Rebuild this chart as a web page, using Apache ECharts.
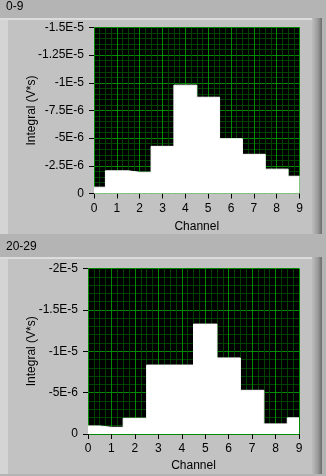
<!DOCTYPE html>
<html>
<head>
<meta charset="utf-8">
<script src="https://cdn.jsdelivr.net/npm/echarts@6/dist/echarts.min.js"></script>
<style>
  html, body { margin: 0; padding: 0; background: #b4b4b4; }
  #chart { width: 326px; height: 476px; }
</style>
</head>
<body>
<div id="chart"></div>
<script>
  // channel numbers and integrated signal (V*s) for the two groups
  const channels = [0, 1, 2, 3, 4, 5, 6, 7, 8, 9];
  const integral0to9 = [-5.7e-7, -2.05e-6, -1.92e-6, -4.26e-6, -9.79e-6, -8.7e-6, -4.95e-6, -3.54e-6, -2.2e-6, -1.56e-6];
  const integral20to29 = [-9.7e-7, -8.1e-7, -1.9e-6, -8.33e-6, -8.33e-6, -1.328e-5, -9.19e-6, -5.28e-6, -1.22e-6, -1.95e-6];
  const groupLabels = ['0-9', '20-29'];
  const yMins = [-1.5e-5, -2e-5];
  const yIntervals = [2.5e-6, 5e-6];
  const yMinorSplits = [5, 5];

  const font = 'Liberation Sans';

  function sciLabel(v) {
    if (Math.abs(v) < 1e-12) return '0';
    let s = Number(v.toPrecision(6)).toExponential();
    return s.replace('e', 'E').replace('+', '');
  }

  function toPoints(vals) {
    return channels.map((c, i) => [c, vals[i]]);
  }

  let myChart = echarts.init(document.getElementById('chart'));

  let grids = [
    { left: 94, top: 27.5, width: 205.5, height: 166 },
    { left: 88, top: 268.5, width: 211, height: 165.5 }
  ].map(g => Object.assign(g, { show: true, backgroundColor: '#000', borderWidth: 0 }));

  let xAxes = [0, 1].map(i => ({
    type: 'value',
    gridIndex: i,
    min: 0,
    max: 9,
    interval: 1,
    name: 'Channel',
    nameLocation: 'middle',
    nameGap: i === 0 ? 27 : 26,
    nameMoveOverlap: false,
    nameTextStyle: { color: '#000', fontFamily: font, fontSize: 12 },
    axisLine: { show: false },
    axisTick: { show: true, length: 5, lineStyle: { color: '#000' } },
    axisLabel: { color: '#000', fontFamily: font, fontSize: 12, margin: 9 },
    splitLine: { show: true, lineStyle: { color: '#008a00', width: 1 } },
    minorTick: { show: false, splitNumber: 4 },
    minorSplitLine: { show: true, lineStyle: { color: '#004200', width: 1 } }
  }));

  let yAxes = [0, 1].map(i => ({
    type: 'value',
    gridIndex: i,
    inverse: true,
    min: yMins[i],
    max: 0,
    interval: yIntervals[i],
    name: 'Integral (V*s)',
    nameLocation: 'middle',
    nameGap: i === 0 ? 56 : 50,
    nameMoveOverlap: false,
    nameTextStyle: { color: '#000', fontFamily: font, fontSize: 12 },
    axisLine: { show: false },
    axisTick: { show: true, length: 5, lineStyle: { color: '#000' } },
    axisLabel: { color: '#000', fontFamily: font, fontSize: 12, margin: 10, formatter: sciLabel },
    splitLine: { show: true, lineStyle: { color: '#008a00', width: 1 } },
    minorTick: { show: false, splitNumber: yMinorSplits[i] },
    minorSplitLine: { show: true, lineStyle: { color: '#004200', width: 1 } }
  }));

  let series = [integral0to9, integral20to29].map((vals, i) => ({
    type: 'line',
    xAxisIndex: i,
    yAxisIndex: i,
    step: 'middle',
    symbol: 'none',
    data: toPoints(vals),
    lineStyle: { color: '#fff', width: 1 },
    areaStyle: { color: '#fff', opacity: 1 },
    silent: true
  }));

  // LabVIEW-like panel frames behind each graph
  function panel(top, bottom, label, labelY) {
    return [
      { type: 'rect', z: -10, shape: { x: 0, y: top, width: 316, height: bottom - top }, style: { fill: '#c2c2c2' } },
      { type: 'rect', z: -9, shape: { x: 0, y: top, width: 8, height: bottom - top }, style: { fill: '#d4d4d4' } },
      { type: 'rect', z: -9, shape: { x: 0, y: top, width: 316, height: 2 }, style: { fill: '#dcdcdc' } },
      { type: 'rect', z: -9, shape: { x: 312, y: top, width: 10, height: bottom - top },
        style: { fill: new echarts.graphic.LinearGradient(0, 0, 1, 0, [
          { offset: 0, color: '#bdbdbd' }, { offset: 0.6, color: '#9a9a9a' }, { offset: 1, color: '#6c6c6c' }
        ]) } },
      { type: 'text', z: -8, left: 6, top: labelY - 7,
        style: { text: label, fill: '#000', font: '12px "' + font + '"' } }
    ];
  }

  let option = {
    backgroundColor: '#b4b4b4',
    animation: false,
    grid: grids,
    xAxis: xAxes,
    yAxis: yAxes,
    series: series,
    graphic: [].concat(panel(18, 234, groupLabels[0], 8), panel(257, 474, groupLabels[1], 248))
  };
  myChart.setOption(option);
</script>
</body>
</html>
